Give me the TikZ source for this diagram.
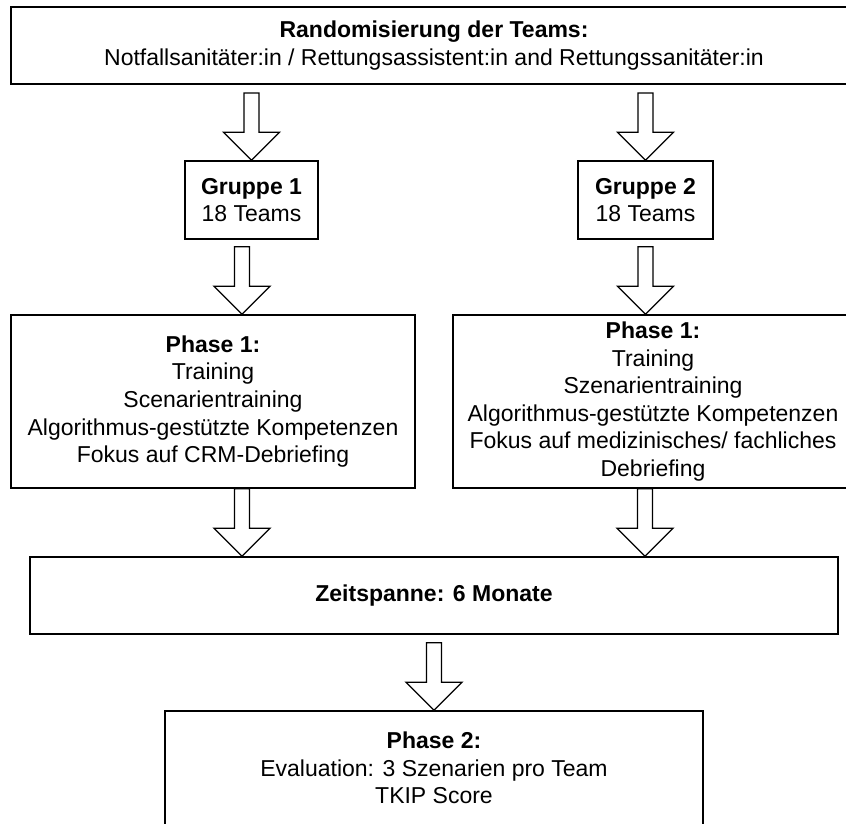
\documentclass[tikz,border=0pt]{standalone}
\usepackage{fontspec}
\setmainfont{Liberation Sans}
\usetikzlibrary{calc}
\tikzset{
  box/.style={draw=black, fill=white, line width=1.4pt, rectangle, inner sep=0pt, align=center,
    font=\fontsize{23}{27.6}\selectfont},
  blockarrow/.style={draw=black, fill=white, line width=1.3pt, line join=miter}
}
\newcommand\barrow[2]{%
  \draw[blockarrow] let \p1=(#1), \p2=(#2) in
    (\x1-7.5pt,\y1) -- (\x1+7.5pt,\y1) -- (\x1+7.5pt,\y2+28pt) -- (\x1+28pt,\y2+28pt)
    -- (\x1,\y2) -- (\x1-28pt,\y2+28pt) -- (\x1-7.5pt,\y2+28pt) -- cycle;}
\begin{document}
\begin{tikzpicture}[x=1pt,y=1pt]
\useasboundingbox (0,0) rectangle (846,823);
\clip (0,0) rectangle (846,823);
\fill[white] (0,0) rectangle (846,823);
% boxes (px coordinates, y flipped: 823 - y)
\node[box, line width=2pt, minimum width=846, minimum height=77] (top) at (434,777.5)
  {\textbf{Randomisierung der Teams:}\\Notfallsanitäter:in / Rettungsassistent:in and Rettungssanitäter:in};
\node[box, minimum width=133, minimum height=78] (g1) at (251.5,623)
  {\textbf{Gruppe 1}\\18 Teams};
\node[box, minimum width=135, minimum height=78] (g2) at (645.5,623)
  {\textbf{Gruppe 2}\\18 Teams};
\node[box, minimum width=404, minimum height=173] (p1l) at (213,421.5)
  {\textbf{Phase 1:}\\Training\\Scenarientraining\\Algorithmus-gestützte Kompetenzen\\Fokus auf CRM-Debriefing};
\node[box, minimum width=400, minimum height=173] (p1r) at (653,421.5)
  {\textbf{Phase 1:}\\Training\\Szenarientraining\\Algorithmus-gestützte Kompetenzen\\Fokus auf medizinisches/ fachliches\\Debriefing};
\node[box, minimum width=808, minimum height=77] (zeit) at (434,227.5)
  {\textbf{Zeitspanne: 6 Monate}};
\node[box, minimum width=538, minimum height=114] (p2) at (434,55)
  {\textbf{Phase 2:}\\Evaluation: 3 Szenarien pro Team\\TKIP Score};
% block arrows
\barrow{$(top.south -| g1.north)+(0,-8)$}{g1.north}
\barrow{$(top.south -| g2.north)+(0,-8)$}{g2.north}
\barrow{$(g1.south)+(-9.5,-7)$}{p1l.north}
\barrow{$(g2.south)+(0,-7)$}{p1r.north}
\barrow{$(p1l.south)+(29,0)$}{zeit.north}
\barrow{$(p1r.south)+(-8,0)$}{zeit.north}
\barrow{$(zeit.south)+(0,-8)$}{p2.north}
\end{tikzpicture}
\end{document}
